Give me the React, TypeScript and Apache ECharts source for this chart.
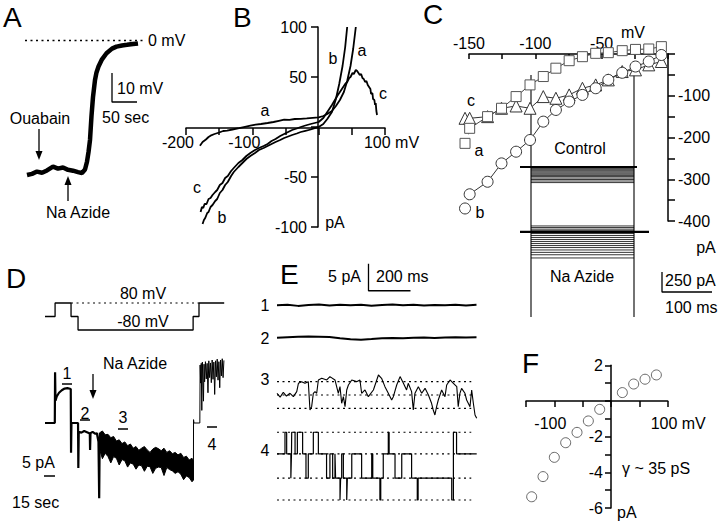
import React, { useEffect, useRef } from "react";
import * as echarts from "echarts";

const FONT = '"Liberation Sans", Arial, Helvetica, sans-serif';
const INK = "#000";

// ---------- Panel A : membrane potential (mV) vs time (s)
const aTimeSec = [0, 10, 20, 30, 40, 52, 62, 72, 82, 92, 102, 110, 116, 120, 123, 126, 129, 132, 136, 139, 143, 150, 159, 170, 179, 190, 200, 212, 222];
const aVoltMv = [-46.4, -46.0, -45.2, -45.6, -44.8, -43.5, -44.2, -43.8, -44.6, -44.9, -45.4, -45.7, -44.5, -41.8, -38.5, -34.3, -26.0, -19.5, -13.6, -11.0, -9.0, -6.5, -4.4, -2.8, -2.1, -1.7, -1.5, -1.2, -1.0];
const aZeroLine = [[-4, 0], [236, 0]];
const aScaleBar = [[170, -11.2], [170, -21.2], [220, -21.2]]; // 10 mV, 50 sec

// ---------- Panel B : I-V ramps (mV, pA)
const bXLabeled = [-200, -100, 100];
const bYLabeled = [100, 50, -50, -100];
const bCurveA = [[-179, -18.7], [-175, -15], [-170, -12.5], [-166, -10], [-163, -8.7], [-157, -7], [-150, -5.5], [-144, -4], [-138, -3.7], [-130, -2.5], [-120, -1.2], [-111, 0.2], [-103, 1.3], [-95, 2.4], [-87, 3], [-77, 4], [-68, 5], [-60, 6.2], [-52, 7.3], [-44, 7.2], [-36, 8], [-27, 8.1], [-18, 8.6], [-9, 9.2], [0, 9.7], [7, 11], [13, 13], [20, 16], [26, 21], [32, 27], [38, 35], [43, 46], [48, 61], [52, 78], [56, 100]];
const bCurveB = [[-175, -97], [-173, -93], [-171, -91], [-168, -86], [-166, -85], [-163, -80], [-160, -78], [-156, -74], [-153, -72], [-149, -66], [-145, -63], [-141, -58], [-137, -55], [-132, -49], [-128, -45], [-121, -40], [-115, -36], [-109, -32], [-103, -29], [-96, -26], [-90, -23], [-83, -21], [-77, -19], [-71, -17], [-65, -15], [-58, -13], [-52, -11], [-46, -9.5], [-40, -8], [-33, -6.5], [-27, -5], [-20, -3.8], [-12, -2.5], [-6, -1.2], [0, 0], [7, 3], [13, 8], [20, 15], [26, 28], [31, 43], [36, 61], [40, 80], [43, 100]];
const bCurveC = [[-178, -85], [-176, -80], [-174, -81], [-172, -77], [-169, -77], [-166, -72], [-163, -71], [-160, -68], [-156, -65], [-153, -63], [-149, -58], [-145, -56], [-141, -51], [-137, -49], [-132, -44], [-128, -41], [-121, -36], [-115, -33], [-109, -29], [-103, -26], [-96, -23], [-90, -21], [-83, -19], [-77, -17], [-71, -14], [-65, -12], [-58, -9], [-52, -7], [-46, -5], [-40, -3], [-33, -1.5], [-27, 0], [-20, 1.5], [-12, 3], [-6, 4], [0, 5], [7, 9], [13, 15], [20, 22], [28, 31], [35, 38], [40, 43], [43, 45], [46, 49], [48, 50], [51, 54], [53, 53], [56, 57], [58, 56], [60, 54], [62, 52], [64, 53], [66, 49], [68, 48], [70, 45], [72, 46], [74, 42], [76, 40], [78, 38], [79, 33], [81, 34], [82, 28], [84, 27], [85, 22], [86, 24], [87, 16], [88, 12]];

// ---------- Panel C : steady-state I-V (mV, pA)
const cXLabeled = [-150, -100, -50];
const cYLabeled = [-100, -200, -300, -400];
const cVolt = [-153, -149.5, -136, -125.5, -114.5, -104, -94, -84.5, -74.5, -64.5, -54.5, -45, -34.5, -24.5, -14.5, -5];
const cSquaresA = [-214, -178, -150, -130, -102, -74, -54, -34, -16, -6.4, 1.6, 3.2, 8, 11, 12, 17.6];
const cCirclesB = [-370, -336, -306, -262, -234, -206, -162, -134, -114, -98, -82, -62, -45, -30, -18, -2.4];
const cTrianglesC = [-154, -154, -150, -130, -124.5, -130, -102, -106, -98, -82, -74, -62, -42, -38, -26, -18];
// inset current families (ms, pA)
const cStepStartMs = 22;
const cStepEndMs = 228;
const cControlHold = [[0, 0], [234, 0]];
const cControlLevels = [0, -10, -22, -35, -48, -62, -76, -90, -105, -120, -138, -156, -175, -195];
const cAzideOffset = -812;
const cAzideHold = [[0, -812], [258, -812]];
const cAzideLevels = [75, 55, 35, 15, 0, -20, -45, -70, -95, -120, -145, -170, -195, -225, -255, -285, -325];
const cMarkerLines = [[[22, 1150], [22, -1875]], [[228, 1150], [228, -1875]]];
const cScaleBar = [[284, -1312.5], [284, -1562.5], [384, -1562.5]]; // 250 pA, 100 ms

// ---------- Panel D : protocol (mV) and current (pA) vs time (s)
const dProtoT = [0, 3.6, 3.6, 9.3, 9.3, 11.8, 11.8, 52.9, 52.9, 55.0, 55.0, 64];
const dProtoV = [0, 0, 80, 80, 0, 0, -80, -80, 0, 0, 80, 80];
const dProtoDotted = [[9.3, 80], [55, 80]];
const dPreT = [0, 3.5, 3.6, 3.75, 4.2, 5, 6, 7, 8, 9.2, 9.3, 9.45, 11.8, 11.9, 12.05, 13, 14, 15, 16, 16.1, 16.25, 17, 18, 18.5, 19.1, 19.35, 19.5, 19.6];
const dPreI = [0, 0, 12.1, 5.3, 6.3, 7.2, 7.8, 8.2, 8.3, 8.1, -7.1, 0, 0, -10.7, -2.1, -2.3, -1.9, -2.2, -2.5, -6.4, -2.4, -2.1, -2.6, -2.4, -4.5, -17.9, -6, -2.3];
const dBandT = [19.6, 20.5, 21.5, 22.5, 23.5, 24.5, 25.5, 26.5, 27.5, 28.5, 29.5, 30.5, 31.5, 32.5, 33.5, 34.5, 35.5, 36.5, 37.5, 38.5, 39.5, 40.5, 41.5, 42.5, 43.5, 44.5, 45.5, 46.5, 47.5, 48.5, 49.5, 50.5, 51.5, 52.5, 53.0];
const dBandUpper = [-2.3, -1.9, -2.8, -2.7, -3.5, -3.2, -4.3, -4.0, -4.9, -4.5, -5.4, -5.0, -6.0, -5.6, -6.5, -6.0, -5.6, -6.4, -7.0, -6.2, -5.8, -6.1, -6.6, -6.0, -7.0, -6.6, -7.3, -7.0, -7.6, -7.2, -8.2, -7.9, -8.8, -8.4, -9.0];
const dBandLower = [-6.5, -8.5, -7.2, -8.0, -9.5, -8.0, -8.4, -10.0, -8.7, -9.0, -10.5, -9.5, -9.8, -11.0, -10.0, -10.2, -11.5, -10.3, -10.4, -12.0, -10.8, -10.5, -10.6, -12.5, -10.6, -11.1, -11.4, -12.0, -11.6, -12.2, -13.5, -12.6, -13.0, -14.0, -13.6];
const dPostT = [53.0, 53.05, 53.2, 55.3, 55.4, 55.6, 55.8, 56.0, 56.2, 56.4, 56.6, 56.8, 57.0, 57.3, 57.6, 57.9, 58.2, 58.5, 58.8, 59.1, 59.4, 59.7, 60.0, 60.3, 60.6, 60.9, 61.2, 61.5, 61.8, 62.1, 62.4, 62.7, 63.0, 63.3, 63.6, 63.9];
const dPostI = [-13.6, 0.8, 0, 0, 13.8, 9.5, 14.2, 3.0, 14.5, 10.2, 5.2, 14.0, 9.8, 14.6, 10.5, 14.2, 7.2, 14.8, 10.8, 14.3, 9.6, 15.0, 10.4, 14.5, 6.8, 14.8, 11.0, 15.2, 10.2, 14.6, 8.4, 15.0, 11.2, 15.3, 10.8, 14.9];
const dScaleBar = [[-11.43, -7.62], [-11.43, -12.62], [3.57, -12.62]]; // 5 pA, 15 sec

// ---------- Panel E : single-channel records (ms, pA)
const eGridMs = [0, 50, 100, 150, 200, 250, 300, 350, 400, 450, 500, 550, 600, 650, 700, 750, 800, 850, 900, 950];
const eTrace1Offset = 37.9;
const eTrace1 = [0, 0.1, -0.1, 0.05, 0.15, -0.05, 0.1, 0, 0.12, -0.08, 0.05, 0.15, 0, 0.1, -0.05, 0.08, 0.02, 0.12, -0.02, 0.1];
const eTrace2Offset = 31.9;
const eTrace2 = [0, 0.1, 0.2, 0.25, 0.2, 0.15, -0.1, -0.3, -0.35, -0.25, -0.1, -0.05, -0.1, 0, 0.05, -0.05, 0.05, 0.1, 0.05, 0.1];
const eTrace3Offset = 21.3;
const eTrace3Levels = [2.47, 0, -2.47];
const eTrace3 = [[0, 0.3], [15, -0.4], [30, 0.5], [45, -0.2], [62, 0.31], [78, -0.31], [94, 0.62], [102, 2.16], [117, 2.47], [133, 2.16], [149, 2.47], [157, -2.78], [165, -2.16], [173, 0.31], [181, 0.62], [189, 0.31], [197, 2.78], [213, 3.09], [237, 2.78], [252, 3.4], [276, 2.78], [292, 0.31], [300, 1.54], [308, -1.54], [316, -0.31], [324, -2.16], [332, 0.93], [340, 1.85], [356, 2.78], [379, 2.47], [395, 2.78], [403, 0.31], [419, 0.93], [435, -0.31], [459, 0.93], [475, 2.78], [483, 3.7], [498, 3.09], [514, 1.54], [530, 0.31], [546, -0.93], [554, -0.31], [570, 1.85], [586, 3.4], [602, 2.16], [617, 0.93], [625, 2.16], [641, 0.62], [649, -2.78], [657, 0.31], [673, 1.54], [689, 0.31], [705, 1.23], [721, 0], [736, -1.54], [744, -2.78], [752, -3.7], [760, -2.16], [768, -0.93], [784, 0.93], [800, -0.31], [808, 1.85], [824, 2.78], [840, 2.16], [856, 1.54], [863, -2.16], [871, 0.31], [879, 1.23], [895, 0.31], [903, -0.93], [919, -2.16], [927, 0.93], [935, -1.54], [943, -3.7], [951, -4.32]];
const eTrace4Levels = [14.4, 10.4, 5.9, 1.85]; // open+1, baseline, -1, -2
const eTrace4Times = [0, 38, 46, 66, 69, 70, 86, 97, 122, 138, 149, 173, 197, 236, 252, 265, 276, 279, 300, 303, 308, 316, 332, 335, 356, 403, 451, 456, 490, 494, 506, 530, 534, 562, 594, 641, 668, 672, 832, 840, 855, 951];
const eTrace4States = [1, 0, 1, 2, 1, 0, 1, 0, 1, 2, 1, 0, 1, 2, 1, 2, 1, 2, 3, 2, 1, 2, 3, 2, 1, 2, 1, 2, 3, 2, 1, 0, 1, 2, 1, 2, 3, 2, 3, 0, 1, 1];
const eDottedSpan = [0, 925];
const eScaleBar = [[435.7, 45.6], [435.7, 40.6], [635.7, 40.6]]; // 5 pA, 200 ms

// ---------- Panel F : unitary I-V (mV, pA)
const fXLabeled = [-100, 100];
const fYLabeled = [2, -2, -4, -6];
const fVolt = [-140, -120, -100, -80, -60, -40, -20, 20, 40, 60, 80];
const fCurrent = [-5.37, -4.24, -3.16, -2.34, -1.76, -1.12, -0.47, 0.47, 0.95, 1.22, 1.46];

// ---------------------------------------------------------------
const zip = (xs: number[], ys: number[]) => xs.map((x, i) => [x, ys[i]]);

const hid = (gi: number, min: number, max: number) => ({
  gridIndex: gi, type: "value", min, max, show: false, splitLine: { show: false },
});

const axisLineStyle = { color: INK, width: 1.5 };
const labelBase = { color: INK, fontFamily: FONT, fontSize: 16 };

const ln = (idx: number, data: any[], width = 1.2, extra: any = {}) => ({
  type: "line", xAxisIndex: idx, yAxisIndex: idx, data, symbol: "none", clip: false, silent: true,
  lineStyle: { color: INK, width, ...(extra.lineStyle || {}) },
  ...(extra.step ? { step: extra.step } : {}),
});

const dotted = { type: [2, 3.5] as any };

const familyData = (levels: number[], offset: number) => {
  const out: any[] = [];
  levels.forEach((l) => {
    out.push([cStepStartMs, offset + l], [cStepEndMs, offset + l], [cStepEndMs, "-"]);
  });
  return out;
};

const txt = (text: string, x: number, y: number, align = "center", size = 16) => ({
  type: "text", x, y, silent: true, z: 100,
  style: { text, fill: INK, font: `${size}px ${FONT}`, align, verticalAlign: "middle", textAlign: align, textVerticalAlign: "middle" },
});

const arrow = (x: number, yFrom: number, yTo: number) => {
  const d = yTo > yFrom ? 1 : -1;
  return [
    { type: "line", silent: true, z: 100, shape: { x1: x, y1: yFrom, x2: x, y2: yTo - d * 5 }, style: { stroke: INK, lineWidth: 1.3 } },
    { type: "polygon", silent: true, z: 100, shape: { points: [[x - 3.5, yTo - d * 9], [x + 3.5, yTo - d * 9], [x, yTo]] }, style: { fill: INK } },
  ];
};
const bar = (x1: number, x2: number, y: number) => ({
  type: "line", silent: true, z: 100, shape: { x1, y1: y, x2, y2: y }, style: { stroke: INK, lineWidth: 1.5 },
});

const grids = [
  { left: 22, top: 40.5, width: 130, height: 145 }, // A
  { left: 186, top: 27, width: 199, height: 200 }, // B
  { left: 469, top: 54, width: 199, height: 167 }, // C
  { left: 520, top: 75, width: 200, height: 242 }, // C inset
  { left: 45, top: 299.6, width: 179.2, height: 33.75 }, // D protocol
  { left: 45, top: 355.8, width: 179.2, height: 142.8 }, // D current
  { left: 277, top: 294, width: 201.6, height: 216 }, // E
  { left: 526, top: 365.3, width: 141.7, height: 142.7 }, // F
].map((g) => ({ ...g, containLabel: false, outerBoundsMode: "none", show: false }));

// axis crossing offsets (the axes cross at the origin of B and F)
const bYOffset = -(318 - 186);
const bXOffset = -(227 - 128);
const fYOffset = -(611 - 526);
const fXOffset = -(508 - 401);

const option: any = {
  animation: false,
  backgroundColor: "#fff",
  textStyle: { fontFamily: FONT },
  grid: grids,
  xAxis: [
    hid(0, -10, 250),
    {
      gridIndex: 1, type: "value", min: -200, max: 100, interval: 50, position: "bottom", offset: bXOffset,
      axisLine: { onZero: false, lineStyle: axisLineStyle },
      axisTick: { length: 7, lineStyle: axisLineStyle },
      splitLine: { show: false },
      axisLabel: {
        ...labelBase, margin: 6, showMinLabel: true, showMaxLabel: true,
        formatter: (v: number) => (v === 100 ? `{u|${v} mV}` : bXLabeled.includes(v) ? `{n|${v}}` : ""),
        rich: { n: { ...labelBase, padding: [0, 16, 0, 0] }, u: { ...labelBase, padding: [0, 0, 0, 13] } },
      },
    },
    {
      gridIndex: 2, type: "value", position: "top", min: -150, max: 0, interval: 25,
      axisLine: { onZero: false, lineStyle: axisLineStyle },
      axisTick: { inside: true, length: 5, lineStyle: axisLineStyle },
      splitLine: { show: false },
      axisLabel: { ...labelBase, margin: 3, showMinLabel: true, formatter: (v: number) => (cXLabeled.includes(v) ? String(v) : "") },
    },
    hid(3, 0, 400),
    hid(4, 0, 64),
    hid(5, 0, 64),
    hid(6, 0, 960),
    {
      gridIndex: 7, type: "value", min: -150, max: 100, interval: 50, position: "bottom", offset: fXOffset,
      axisLine: { onZero: false, lineStyle: axisLineStyle },
      axisTick: { length: 6, lineStyle: axisLineStyle },
      splitLine: { show: false },
      axisLabel: {
        ...labelBase, margin: 14, showMinLabel: true, showMaxLabel: true,
        formatter: (v: number) => (v === 100 ? `{u|${v} mV}` : fXLabeled.includes(v) ? `{n|${v}}` : ""),
        rich: { n: { ...labelBase, padding: [0, 8, 0, 0] }, u: { ...labelBase, padding: [0, 0, 0, 21] } },
      },
    },
  ],
  yAxis: [
    hid(0, -50, 0),
    {
      gridIndex: 1, type: "value", min: -100, max: 100, interval: 50, position: "left", offset: bYOffset,
      axisLine: { onZero: false, lineStyle: axisLineStyle },
      axisTick: { length: 7, lineStyle: axisLineStyle },
      splitLine: { show: false },
      axisLabel: { ...labelBase, margin: 11, showMinLabel: true, showMaxLabel: true, formatter: (v: number) => (bYLabeled.includes(v) ? String(v) : "") },
    },
    {
      gridIndex: 2, type: "value", position: "right", min: -400, max: 0, interval: 50,
      axisLine: { onZero: false, lineStyle: axisLineStyle },
      axisTick: { length: 7, lineStyle: axisLineStyle },
      splitLine: { show: false },
      axisLabel: { ...labelBase, margin: 10, showMinLabel: true, formatter: (v: number) => (cYLabeled.includes(v) ? String(v) : "") },
    },
    hid(3, -1875, 1150),
    hid(4, -100, 100),
    hid(5, -18, 16),
    hid(6, 0, 40),
    {
      gridIndex: 7, type: "value", min: -6, max: 2, interval: 1, position: "left", offset: fYOffset,
      axisLine: { onZero: false, lineStyle: axisLineStyle },
      axisTick: { length: 6, lineStyle: axisLineStyle },
      splitLine: { show: false },
      axisLabel: { ...labelBase, margin: 8, showMinLabel: true, showMaxLabel: true, formatter: (v: number) => (fYLabeled.includes(v) ? String(v) : "") },
    },
  ],
  series: [
    // A
    ln(0, zip(aTimeSec, aVoltMv), 4.5),
    ln(0, aZeroLine, 1.5, { lineStyle: dotted }),
    ln(0, aScaleBar, 1.3),
    // B
    ln(1, bCurveA, 1.8),
    ln(1, bCurveB, 1.8),
    ln(1, bCurveC, 1.8),
    // C inset
    ...cMarkerLines.map((d) => ln(3, d, 1.1)),
    ln(3, cControlHold, 2.2),
    ln(3, familyData(cControlLevels, 0), 0.8),
    ln(3, cAzideHold, 2.2),
    ln(3, familyData(cAzideLevels, cAzideOffset), 0.8),
    ln(3, cScaleBar, 1.3),
    // C IV
    {
      type: "line", xAxisIndex: 2, yAxisIndex: 2, data: zip(cVolt, cTrianglesC), clip: false, silent: true,
      symbol: "triangle", symbolSize: 12, lineStyle: { color: "#333", width: 1 },
      itemStyle: { color: "#fff", borderColor: "#333", borderWidth: 1 },
    },
    {
      type: "line", xAxisIndex: 2, yAxisIndex: 2, data: zip(cVolt, cSquaresA), clip: false, silent: true,
      symbol: "rect", symbolSize: 10, lineStyle: { color: "#444", width: 1 },
      itemStyle: { color: "#fff", borderColor: "#555", borderWidth: 1 },
    },
    {
      type: "line", xAxisIndex: 2, yAxisIndex: 2, data: zip(cVolt, cCirclesB), clip: false, silent: true,
      symbol: "circle", symbolSize: 11, lineStyle: { color: "#333", width: 1 },
      itemStyle: { color: "#fff", borderColor: "#333", borderWidth: 1 },
    },
    // D protocol
    ln(4, zip(dProtoT, dProtoV), 1.3),
    ln(4, dProtoDotted, 1.2, { lineStyle: dotted }),
    // D current
    ln(5, zip(dPreT, dPreI), 2.2),
    {
      type: "custom", xAxisIndex: 5, yAxisIndex: 5, clip: false, silent: true,
      data: dBandT.map((t, i) => [t, dBandUpper[i], dBandLower[i]]),
      encode: { x: 0, y: [1, 2] },
      renderItem: (params: any, api: any) => {
        if (params.dataIndex !== 0) return null;
        const top = dBandT.map((t, i) => api.coord([t, dBandUpper[i]]));
        const bottom = dBandT.map((t, i) => api.coord([t, dBandLower[i]])).reverse();
        return {
          type: "polygon",
          shape: { points: top.concat(bottom) },
          style: { fill: INK, stroke: INK, lineWidth: 1 },
        };
      },
    },
    ln(5, zip(dPostT, dPostI), 1),
    ln(5, dScaleBar, 1.3),
    // E
    ln(6, zip(eGridMs, eTrace1.map((v) => v + eTrace1Offset)), 2),
    ln(6, zip(eGridMs, eTrace2.map((v) => v + eTrace2Offset)), 2),
    ...eTrace3Levels.map((l) => ln(6, eDottedSpan.map((t) => [t, l + eTrace3Offset]), 1.2, { lineStyle: dotted })),
    ...eTrace4Levels.map((l) => ln(6, eDottedSpan.map((t) => [t, l]), 1.2, { lineStyle: dotted })),
    ln(6, eTrace3.map(([t, v]) => [t, v + eTrace3Offset]), 1.1),
    ln(6, eTrace4Times.map((t, i) => [t, eTrace4Levels[eTrace4States[i]]]), 1.2, { step: "end" }),
    ln(6, eScaleBar, 1.3),
    // F
    {
      type: "scatter", xAxisIndex: 7, yAxisIndex: 7, data: zip(fVolt, fCurrent), clip: false, silent: true,
      symbol: "circle", symbolSize: 10,
      itemStyle: { color: "#fff", borderColor: "#444", borderWidth: 1 },
    },
  ],
  graphic: [
    // A
    txt("A", 3, 17, "left", 28),
    txt("0 mV", 148, 40, "left"),
    txt("10 mV", 117, 88, "left"),
    txt("50 sec", 102, 117, "left"),
    txt("Ouabain", 40, 118),
    ...arrow(39, 129, 160),
    txt("Na Azide", 78, 212),
    ...arrow(68, 201, 176),
    // B
    txt("B", 233, 17, "left", 28),
    txt("a", 265, 110),
    txt("b", 333, 58),
    txt("a", 362, 50),
    txt("c", 383, 93),
    txt("c", 197, 187),
    txt("b", 222, 217),
    txt("pA", 335, 222),
    // C
    txt("C", 423, 14, "left", 28),
    txt("mV", 633, 32),
    txt("c", 471, 100),
    txt("a", 479, 150),
    txt("b", 480, 212),
    txt("Control", 580, 148),
    txt("Na Azide", 582, 276),
    txt("pA", 706, 247),
    txt("250 pA", 665, 280, "left"),
    txt("100 ms", 665, 307, "left"),
    // D
    txt("D", 6, 278, "left", 28),
    txt("80 mV", 143, 293),
    txt("-80 mV", 143, 321),
    txt("Na Azide", 135, 363),
    ...arrow(93, 374, 399),
    txt("1", 67, 373),
    bar(62, 72, 384),
    txt("2", 85, 413),
    bar(80, 90, 420),
    txt("3", 123, 417),
    bar(118, 128, 429),
    txt("4", 212, 444),
    bar(207, 217, 427),
    txt("5 pA", 22, 462, "left"),
    txt("15 sec", 12, 502, "left"),
    // E
    txt("E", 280, 274, "left", 28),
    txt("5 pA", 361, 276, "right"),
    txt("200 ms", 376, 276, "left"),
    txt("1", 265, 305),
    txt("2", 265, 338),
    txt("3", 265, 379),
    txt("4", 265, 450),
    // F
    txt("F", 522, 363, "left", 28),
    txt("pA", 617, 512, "left"),
    txt("γ ~ 35 pS", 622, 468, "left"),
  ],
};

export default function App() {
  const ref = useRef<HTMLDivElement>(null);
  useEffect(() => {
    if (!ref.current) return;
    const chart = echarts.init(ref.current, null, { renderer: "svg" });
    chart.setOption(option);
    return () => chart.dispose();
  }, []);
  return (
    <div
      ref={ref}
      style={{ position: "fixed", left: 0, top: 0, width: 720, height: 522, background: "#fff" }}
    />
  );
}
